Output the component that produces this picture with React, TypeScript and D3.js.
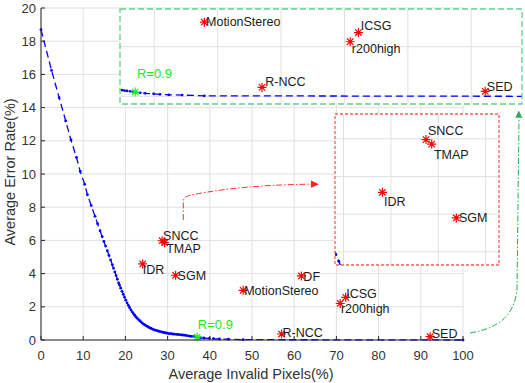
import * as d3 from "d3";

// stereo methods: invalid pixels (%) vs error rate (%)
const methods = ["SNCC", "TMAP", "IDR", "SGM", "MotionStereo", "DF", "ICSG", "r200high", "R-NCC", "SED"];
const invalidPct = [28.7, 29.3, 24.1, 31.9, 47.9, 61.7, 72.2, 70.9, 57.0, 92.2];
const errorRate = [5.98, 5.86, 4.58, 3.9, 2.99, 3.86, 2.57, 2.2, 0.36, 0.2];

// threshold curve of our method
const curveInvalid = [
  0, 2.5, 4.3, 5.85, 7.1, 8.4, 9.3, 10.35, 11.0, 11.9, 12.8, 13.4, 14.0, 14.5, 14.9, 15.3, 15.7, 16.1,
  16.5, 16.9, 17.2, 17.5, 17.8, 18.1, 18.4, 18.6, 18.9, 19.2, 19.5, 19.8, 20.1, 20.4, 20.7, 21.0, 21.3,
  21.6, 21.9, 22.2, 22.5, 22.8, 23.1, 23.4, 23.7, 24.0, 24.3, 24.6, 24.9, 25.2, 25.5, 25.8, 26.1, 26.4,
  26.7, 27.0, 27.3, 27.6, 27.9, 28.2, 28.5, 28.8, 29.1, 29.4, 29.7, 30.0, 30.4, 30.8, 31.2, 31.6, 32.0,
  32.4, 32.8, 33.2, 33.6, 34.0, 34.4, 34.9, 35.3, 35.7, 36.2, 36.6, 37.0, 37.8, 38.6, 39.9, 40.9, 42.3,
  44.4, 47.9, 100,
];
const curveError = [
  18.7, 16.24, 14.6, 13.2, 12.05, 11.0, 10.15, 9.38, 8.75, 8.1, 7.45, 7.01, 6.58, 6.22, 5.94, 5.66, 5.38, 5.1,
  4.82, 4.53, 4.32, 4.1, 3.88, 3.66, 3.44, 3.31, 3.12, 2.93, 2.75, 2.57, 2.4, 2.24, 2.09, 1.95, 1.82,
  1.7, 1.59, 1.49, 1.39, 1.31, 1.23, 1.16, 1.09, 1.02, 0.96, 0.91, 0.86, 0.82, 0.77, 0.73, 0.7, 0.66,
  0.63, 0.6, 0.58, 0.55, 0.53, 0.51, 0.49, 0.47, 0.45, 0.44, 0.42, 0.41, 0.39, 0.38, 0.36, 0.35, 0.34,
  0.33, 0.32, 0.31, 0.3, 0.29, 0.27, 0.25, 0.23, 0.22, 0.2, 0.18, 0.17, 0.14, 0.12, 0.1, 0.08, 0.06,
  0.05, 0.02, 0,
];
const rInvalid = 37.0;
const rError = 0.17;
const rLabel = "R=0.9";

const xTicks = [0, 10, 20, 30, 40, 50, 60, 70, 80, 90, 100];
const yTicks = [0, 2, 4, 6, 8, 10, 12, 14, 16, 18, 20];
const redGridX = [20, 25, 30, 35];
const redGridY = [3, 4, 5, 6];
const greenGridX = [40, 50, 60, 70, 80, 90];
const greenGridY = [0, 2];

// label placement (px from the marker to text start / baseline)
const mainOffsets: Record<string, [number, number]> = {
  SNCC: [1, -0.5], TMAP: [1.5, 10.5], IDR: [0, 10], SGM: [2, 5], MotionStereo: [1, 4.5],
  DF: [2, 4.7], ICSG: [0.5, 1], r200high: [0.7, 10], "R-NCC": [1, 2.7], SED: [1.7, 1.6],
};
const redOffsets: Record<string, [number, number]> = {
  SNCC: [2, -5], TMAP: [2.3, 14.7], IDR: [1.6, 13.3], SGM: [2.6, 4],
};
const greenOffsets: Record<string, [number, number]> = {
  MotionStereo: [1.7, 4], "R-NCC": [3.3, -1.3], ICSG: [2.4, -2.4], r200high: [1.7, 11.7], SED: [1.6, -0.7],
};

const FONT = "'Liberation Sans', Arial, Helvetica, sans-serif";
const GRID = "#e0e0e0";

const Star = ({ cx, cy, color }: { cx: number; cy: number; color: string }) => (
  <path
    d={`M${cx - 4.5},${cy}h9M${cx},${cy - 4.5}v9M${cx - 3.2},${cy - 3.2}l6.4,6.4M${cx - 3.2},${cy + 3.2}l6.4,-6.4`}
    stroke={color}
    strokeWidth={1.2}
    fill="none"
  />
);

const Marks = ({ x, y, offsets, rOffset }: any) => {
  const line = d3
    .line<number>()
    .x((_, i) => x(curveInvalid[i]))
    .y((d) => y(d));
  return (
    <g>
      <path d={line(curveError) || ""} fill="none" stroke="#0000ff" strokeWidth={1.3} strokeDasharray="7,4" />
      {curveError.map((d, i) => (
        <circle key={i} cx={x(curveInvalid[i])} cy={y(d)} r={1.4} fill="#0000ff" />
      ))}
      {methods.map((m, i) =>
        offsets[m] ? (
          <g key={m}>
            <Star cx={x(invalidPct[i])} cy={y(errorRate[i])} color="#ff0000" />
            <text
              x={x(invalidPct[i]) + offsets[m][0]}
              y={y(errorRate[i]) + offsets[m][1]}
              fontSize={12.5}
              fill="#1a1a1a"
            >
              {m}
            </text>
          </g>
        ) : null
      )}
      {rOffset && (
        <g>
          <Star cx={x(rInvalid)} cy={y(rError)} color="#22ee22" />
          <text x={x(rInvalid) + rOffset[0]} y={y(rError) + rOffset[1]} fontSize={13} fill="#22e622">
            {rLabel}
          </text>
        </g>
      )}
    </g>
  );
};

const Inset = ({ id, x, y, gx, gy, offsets, rOffset, stroke, dash }: any) => {
  const [x0, x1] = x.range();
  const [y1, y0] = y.range();
  return (
    <g>
      <defs>
        <clipPath id={id}>
          <rect x={x0} y={y0} width={x1 - x0} height={y1 - y0} />
        </clipPath>
      </defs>
      <rect x={x0} y={y0} width={x1 - x0} height={y1 - y0} fill="#fff" />
      <g clipPath={`url(#${id})`}>
        {gx.map((t: number) => (
          <line key={"x" + t} x1={x(t)} x2={x(t)} y1={y0} y2={y1} stroke={GRID} />
        ))}
        {gy.map((t: number) => (
          <line key={"y" + t} x1={x0} x2={x1} y1={y(t)} y2={y(t)} stroke={GRID} />
        ))}
        <Marks x={x} y={y} offsets={offsets} rOffset={rOffset} />
      </g>
      <rect
        x={x0}
        y={y0}
        width={x1 - x0}
        height={y1 - y0}
        fill="none"
        stroke={stroke}
        strokeWidth={1.3}
        strokeDasharray={dash}
      />
    </g>
  );
};

export default function App() {
  const x = d3.scaleLinear().domain([0, 100]).range([41, 463]);
  const y = d3.scaleLinear().domain([0, 20]).range([340, 8]);
  const xr = d3.scaleLinear().domain([19.1, 36.4]).range([335, 499]);
  const yr = d3.scaleLinear().domain([2.65, 6.66]).range([265, 114]);
  const xg = d3.scaleLinear().domain([34.6, 98]).range([120, 522]);
  const yg = d3.scaleLinear().domain([-0.31, 3.52]).range([104, 9]);
  const axis = "#262626";

  return (
    <svg
      width={525}
      height={383}
      style={{ position: "absolute", left: 0, top: 0, background: "#fff" }}
      fontFamily={FONT}
    >
      {/* main grid */}
      {xTicks.map((t) => (
        <line key={"gx" + t} x1={x(t)} x2={x(t)} y1={y(20)} y2={y(0)} stroke={GRID} />
      ))}
      {yTicks.map((t) => (
        <line key={"gy" + t} x1={x(0)} x2={x(100)} y1={y(t)} y2={y(t)} stroke={GRID} />
      ))}
      <Marks x={x} y={y} offsets={mainOffsets} rOffset={[0.7, -8]} />

      {/* axes */}
      <line x1={x(0)} x2={x(0)} y1={y(20)} y2={y(0)} stroke={axis} />
      <line x1={x(0)} x2={x(100)} y1={y(0)} y2={y(0)} stroke={axis} />
      {xTicks.map((t) => (
        <g key={"tx" + t}>
          <line x1={x(t)} x2={x(t)} y1={y(0)} y2={y(0) - 4} stroke={axis} />
          <text x={x(t)} y={360} textAnchor="middle" fontSize={13} fill="#333">
            {t}
          </text>
        </g>
      ))}
      {yTicks.map((t) => (
        <g key={"ty" + t}>
          <line x1={x(0)} x2={x(0) + 4} y1={y(t)} y2={y(t)} stroke={axis} />
          <text x={36} y={y(t) + 4.5} textAnchor="end" fontSize={13} fill="#333">
            {t}
          </text>
        </g>
      ))}
      <text x={251} y={379} textAnchor="middle" fontSize={14.5} fill="#333">
        Average Invalid Pixels(%)
      </text>
      <text transform="translate(15,172) rotate(-90)" textAnchor="middle" fontSize={14.5} fill="#333">
        Average Error Rate(%)
      </text>

      {/* zoomed insets */}
      <Inset id="red-inset" x={xr} y={yr} gx={redGridX} gy={redGridY} offsets={redOffsets} stroke="#ff5a5a" dash="3,2" />
      <Inset
        id="green-inset"
        x={xg}
        y={yg}
        gx={greenGridX}
        gy={greenGridY}
        offsets={greenOffsets}
        rOffset={[1.7, -13.7]}
        stroke="#5fd08c"
        dash="6,3"
      />

      {/* arrows */}
      <path
        d="M183.3,220 V201 C184,195 192,195 205,192.5 C240,186.5 280,184.5 311,184.2"
        fill="none"
        stroke="#ff3030"
        strokeWidth={1}
        strokeDasharray="6,2,1.5,2"
      />
      <path d="M319,184.2 L311,180.6 L311,187.8 Z" fill="#ff2020" />
      <path
        d="M470,333 C500,328 514,315 517,290 L519,118"
        fill="none"
        stroke="#2aae4f"
        strokeWidth={1}
        strokeDasharray="6,2,1.5,2"
      />
      <path d="M518.8,110.5 L515.3,117.8 L522.3,117.8 Z" fill="#2aae4f" />
    </svg>
  );
}
